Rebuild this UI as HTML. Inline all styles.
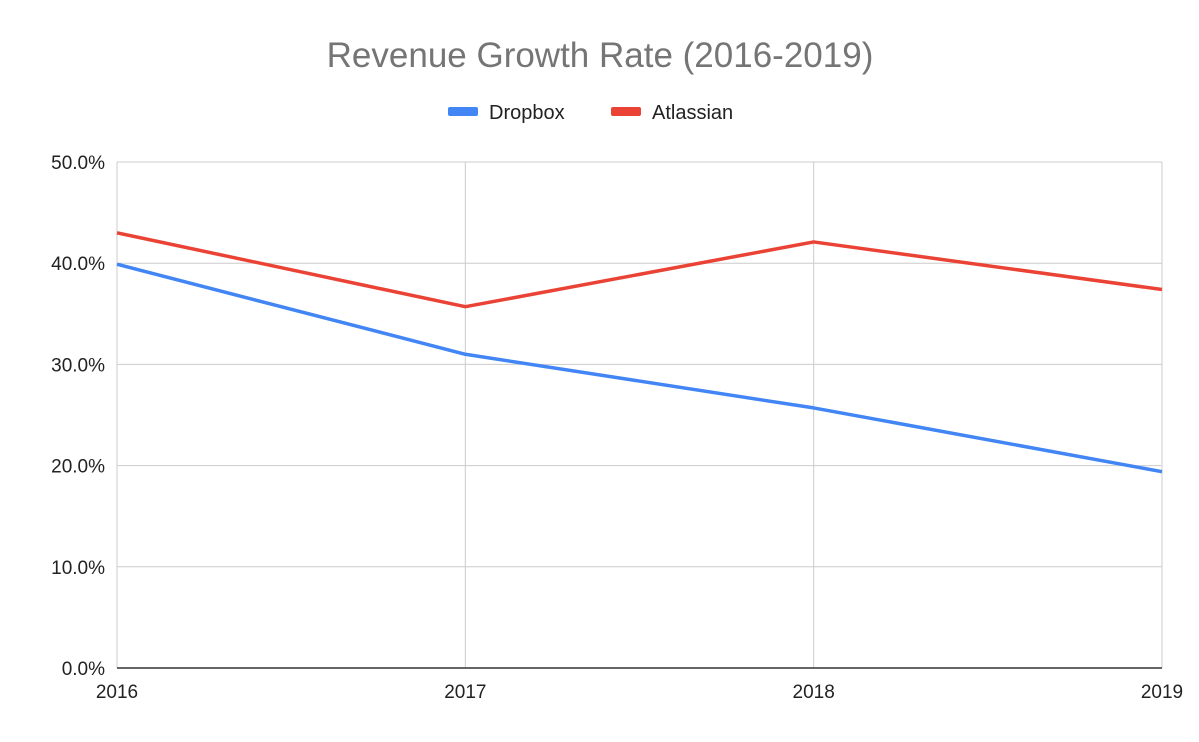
<!DOCTYPE html>
<html><head><meta charset="utf-8"><style>
body{margin:0;background:#fff;}
svg{display:block;font-family:"Liberation Sans",Arial,sans-serif;}
</style></head><body>
<svg id="chart" width="1199" height="742">
<rect width="1199" height="742" fill="#fff"/>
<text x="600" y="67" text-anchor="middle" font-size="35" fill="#757575">Revenue Growth Rate (2016-2019)</text>
<g>
<g><rect x="448" y="107" width="30" height="9" rx="2" fill="#4285f4"/><text x="489" y="119" font-size="20" fill="#222">Dropbox</text></g>
<g><rect x="611" y="107" width="30" height="9" rx="2" fill="#ea4335"/><text x="652" y="119" font-size="20" fill="#222">Atlassian</text></g>
</g>
<g id="grid"></g><g id="series"></g><g id="labels"></g>
</svg>
<script>
const years=["2016","2017","2018","2019"];
const dropbox=[39.9,31.0,25.7,19.4];
const atlassian=[43.0,35.7,42.1,37.4];
const yTicks=[0,10,20,30,40,50];
const x0=117,x1=1162,y0=668,y1=162;
const xs=i=>x0+(x1-x0)*i/(years.length-1);
const ys=v=>y0-(y0-y1)*v/50;
const NS="http://www.w3.org/2000/svg";
function mk(t,a,p){const e=document.createElementNS(NS,t);for(const k in a)e.setAttribute(k,a[k]);p.appendChild(e);return e;}
const g=document.getElementById('grid'),s=document.getElementById('series'),l=document.getElementById('labels');
years.forEach((y,i)=>{
 const ln=mk('line',{x1:xs(i),x2:xs(i),y1:y1,y2:y0,stroke:'#ccc','stroke-width':1},g);
 
 
 const t=mk('text',{x:xs(i),y:698,'text-anchor':'middle','font-size':19,fill:'#222'},l);
 t.textContent=y;
 
 
});
yTicks.forEach(v=>{
 const ln=mk('line',{x1:x0,x2:x1,y1:ys(v),y2:ys(v),stroke:v===0?'#333':'#ccc','stroke-width':v===0?1.5:1},g);
 
 
 const t=mk('text',{x:105,y:ys(v)+7,'text-anchor':'end','font-size':19,fill:'#222'},l);
 t.textContent=v.toFixed(1)+'%';
 
 
});
[[dropbox,'#4285f4','dropbox-line'],[atlassian,'#ea4335','atlassian-line']].forEach(([d,c,n])=>{
 const p=mk('polyline',{points:d.map((v,i)=>xs(i)+','+ys(v)).join(' '),fill:'none',stroke:c,'stroke-width':3.5,'stroke-linejoin':'round'},s);
 
 
});
</script>
</body></html>
